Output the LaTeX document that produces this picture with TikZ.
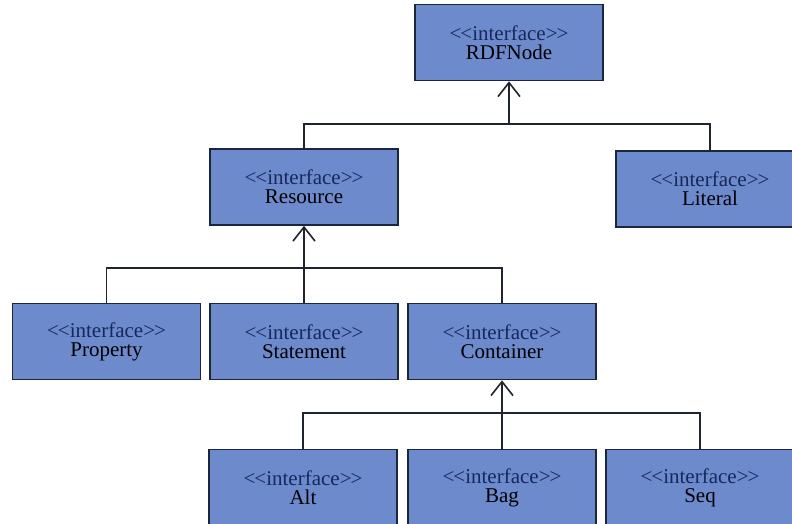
\documentclass[tikz,border=0pt]{standalone}
\usepackage{fontspec}
\setmainfont{Liberation Serif}
\usetikzlibrary{arrows.meta}
\definecolor{boxfill}{RGB}{108,138,204}
\definecolor{boxline}{RGB}{28,38,58}
\definecolor{stereo}{RGB}{24,40,90}
\definecolor{wire}{RGB}{30,36,48}
\tikzset{
  iface/.style={draw=boxline, line width=1.6pt, fill=boxfill, minimum width=188pt, minimum height=76pt, inner sep=0pt, align=center, font=\fontsize{21}{19}\selectfont},
  wireline/.style={draw=wire, line width=1.6pt},
  gen/.style={wireline, -{Straight Barb[length=14pt,width=22pt,line width=1.6pt]}}
}
\newcommand{\iftext}[1]{{\color{stereo}\textless\kern-1pt\textless interface\textgreater\kern-1pt\textgreater}\\#1}
\begin{document}
\begin{tikzpicture}[x=1pt,y=-1pt]
\useasboundingbox (0,0) rectangle (792,523);
\node[iface] (rdf) at (509,42.5) {\iftext{RDFNode}};
\node[iface] (res) at (304,187) {\iftext{Resource}};
\node[iface] (lit) at (710,189) {\iftext{Literal}};
\node[iface] (prop) at (106.5,341.5) {\iftext{Property}};
\node[iface] (stmt) at (304,341.5) {\iftext{Statement}};
\node[iface] (cont) at (502,341.5) {\iftext{Container}};
\node[iface] (alt) at (303,487.5) {\iftext{Alt}};
\node[iface] (bag) at (502,487.5) {\iftext{Bag}};
\node[iface] (seq) at (700,487.5) {\iftext{Seq}};
\coordinate (j1) at (509,124);
\coordinate (j2) at (304,268);
\coordinate (j3) at (502,413);
\draw[gen] (j1) -- (rdf.south);
\draw[wireline] (res.north) |- (j1) -| (lit.north);
\draw[gen] (j2) -- (res.south);
\draw[wireline] (prop.north) |- (j2) -| (cont.north);
\draw[wireline] (stmt.north) -- (j2);
\draw[gen] (j3) -- (cont.south);
\draw[wireline] (alt.north) |- (j3) -| (seq.north);
\draw[wireline] (bag.north) -- (j3);
\end{tikzpicture}
\end{document}
